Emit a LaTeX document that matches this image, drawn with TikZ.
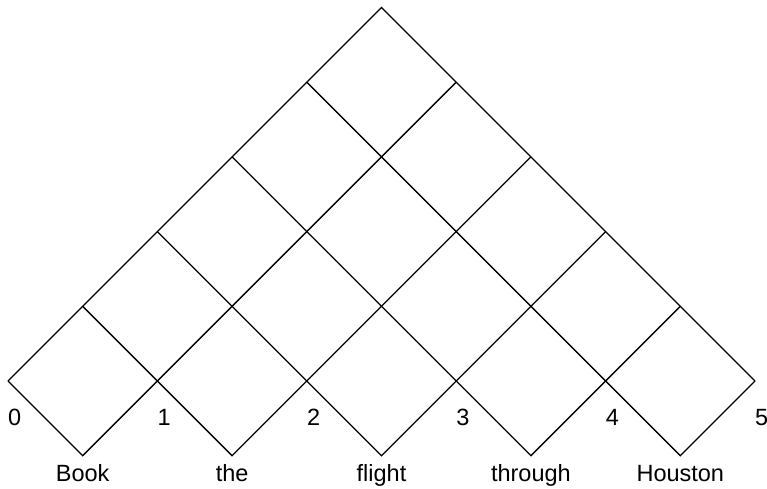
\documentclass[tikz,border=0pt]{standalone}
\usepackage{fontspec}
\setmainfont{Liberation Sans}
\begin{document}
\begin{tikzpicture}[x=1pt,y=-1pt,
  grid/.style={draw=black, line width=1.3pt, line join=miter},
  lbl/.style={font=\fontsize{23.5}{28}\selectfont, inner sep=0pt}]
\useasboundingbox (0,0) rectangle (767,488);
\def\u{74.7}
\foreach \i in {0,...,5} { \coordinate (v\i) at ({8+2*\i*\u},381); }
\foreach \i in {0,...,4} {
  \coordinate (b\i) at ({8+(2*\i+1)*\u},{381+\u});
  \coordinate (r\i) at ({8+(6+\i)*\u},{381-(4-\i)*\u});
  \coordinate (l\i) at ({8+\i*\u},{381-\i*\u});
}
\coordinate (top) at ({8+5*\u},{381-5*\u});
\draw[grid] (v0) -- (top) -- (v5);
\foreach \i in {0,...,4} { \draw[grid] (l\i) -- (b\i) -- (r\i); }
\foreach \i in {0,...,5} { \node[lbl, anchor=base west] (n\i) at ({8+2*\i*\u},425) {\i}; }
\foreach \w [count=\i from 0] in {Book,the,flight,through,Houston} {
  \node[lbl, anchor=base] (w\i) at ({8+(2*\i+1)*\u},481) {\w};
}
\end{tikzpicture}
\end{document}
